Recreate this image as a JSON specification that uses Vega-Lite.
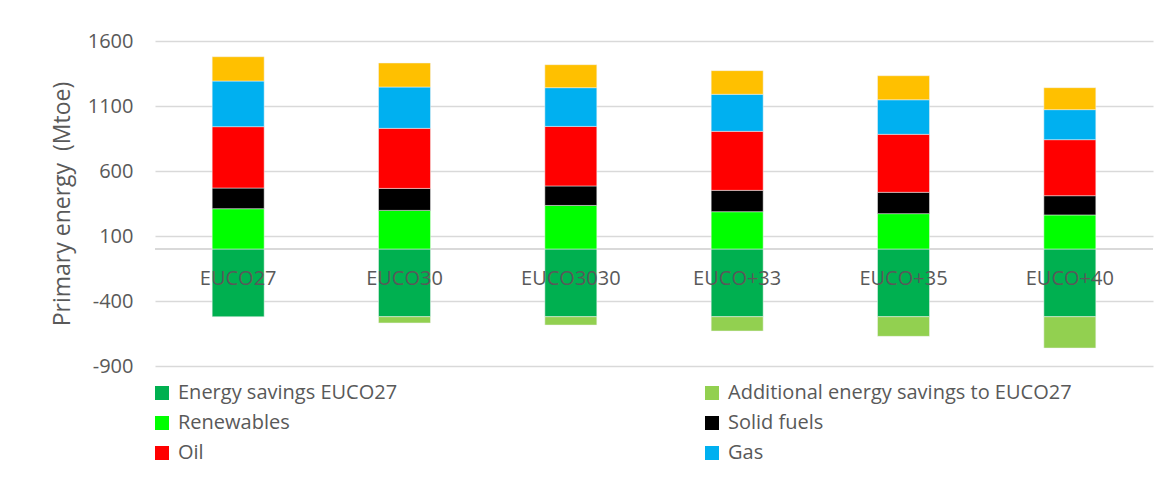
{
  "$schema": "https://vega.github.io/schema/vega-lite/v6.json",
  "autosize": {"type": "none"},
  "width": 998,
  "height": 325,
  "padding": {"left": 155, "top": 41, "right": 15, "bottom": 111},
  "background": "white",
  "config": {
    "font": "Open Sans",
    "view": {"stroke": null}
  },
  "data": {
    "values": [
      {"scenario": "EUCO27", "type": "Energy savings EUCO27", "value": -521},
      {"scenario": "EUCO27", "type": "Renewables", "value": 310},
      {"scenario": "EUCO27", "type": "Solid fuels", "value": 159},
      {"scenario": "EUCO27", "type": "Oil", "value": 472},
      {"scenario": "EUCO27", "type": "Gas", "value": 351},
      {"scenario": "EUCO27", "type": "Nuclear", "value": 187},
      {"scenario": "EUCO30", "type": "Energy savings EUCO27", "value": -521},
      {"scenario": "EUCO30", "type": "Additional energy savings to EUCO27", "value": -48},
      {"scenario": "EUCO30", "type": "Renewables", "value": 297},
      {"scenario": "EUCO30", "type": "Solid fuels", "value": 169},
      {"scenario": "EUCO30", "type": "Oil", "value": 462},
      {"scenario": "EUCO30", "type": "Gas", "value": 318},
      {"scenario": "EUCO30", "type": "Nuclear", "value": 185},
      {"scenario": "EUCO3030", "type": "Energy savings EUCO27", "value": -521},
      {"scenario": "EUCO3030", "type": "Additional energy savings to EUCO27", "value": -64},
      {"scenario": "EUCO3030", "type": "Renewables", "value": 335},
      {"scenario": "EUCO3030", "type": "Solid fuels", "value": 150},
      {"scenario": "EUCO3030", "type": "Oil", "value": 458},
      {"scenario": "EUCO3030", "type": "Gas", "value": 298},
      {"scenario": "EUCO3030", "type": "Nuclear", "value": 177},
      {"scenario": "EUCO+33", "type": "Energy savings EUCO27", "value": -521},
      {"scenario": "EUCO+33", "type": "Additional energy savings to EUCO27", "value": -110},
      {"scenario": "EUCO+33", "type": "Renewables", "value": 287},
      {"scenario": "EUCO+33", "type": "Solid fuels", "value": 164},
      {"scenario": "EUCO+33", "type": "Oil", "value": 454},
      {"scenario": "EUCO+33", "type": "Gas", "value": 285},
      {"scenario": "EUCO+33", "type": "Nuclear", "value": 182},
      {"scenario": "EUCO+35", "type": "Energy savings EUCO27", "value": -521},
      {"scenario": "EUCO+35", "type": "Additional energy savings to EUCO27", "value": -151},
      {"scenario": "EUCO+35", "type": "Renewables", "value": 272},
      {"scenario": "EUCO+35", "type": "Solid fuels", "value": 164},
      {"scenario": "EUCO+35", "type": "Oil", "value": 446},
      {"scenario": "EUCO+35", "type": "Gas", "value": 266},
      {"scenario": "EUCO+35", "type": "Nuclear", "value": 185},
      {"scenario": "EUCO+40", "type": "Energy savings EUCO27", "value": -521},
      {"scenario": "EUCO+40", "type": "Additional energy savings to EUCO27", "value": -241},
      {"scenario": "EUCO+40", "type": "Renewables", "value": 262},
      {"scenario": "EUCO+40", "type": "Solid fuels", "value": 148},
      {"scenario": "EUCO+40", "type": "Oil", "value": 431},
      {"scenario": "EUCO+40", "type": "Gas", "value": 231},
      {"scenario": "EUCO+40", "type": "Nuclear", "value": 169}
    ]
  },
  "layer": [
    {
      "mark": {"type": "rule", "color": "#d9d9d9", "strokeWidth": 1.3},
      "encoding": {
        "y": {
          "datum": 0,
          "type": "quantitative",
          "scale": {"domain": [-900, 1600], "nice": false, "zero": false},
          "axis": {
            "title": "Primary energy\u00a0 (Mtoe)",
            "titleFontSize": 23,
            "titleFontWeight": "normal",
            "titleColor": "#595959",
            "titlePadding": 13,
            "values": [-900, -400, 100, 600, 1100, 1600],
            "labelExpr": "'' + datum.value",
            "domain": false,
            "ticks": false,
            "labelFontSize": 20,
            "labelColor": "#595959",
            "labelPadding": 22,
            "grid": true,
            "gridColor": "#d9d9d9",
            "gridWidth": 1.3
          }
        }
      }
    },
    {
      "transform": [
        {"calculate": "indexof(['Energy savings EUCO27','Additional energy savings to EUCO27','Renewables','Solid fuels','Oil','Gas','Nuclear'], datum.type)", "as": "rank"}
      ],
      "mark": {"type": "bar", "stroke": "#f2f2f2", "strokeWidth": 0.5},
      "encoding": {
        "x": {
          "field": "scenario",
          "type": "nominal",
          "sort": ["EUCO27", "EUCO30", "EUCO3030", "EUCO+33", "EUCO+35", "EUCO+40"],
          "scale": {"paddingInner": 0.6875, "paddingOuter": 0.34375},
          "axis": {
            "title": null,
            "orient": "bottom",
            "offset": -117.7,
            "domain": false,
            "ticks": false,
            "grid": false,
            "labelAngle": 0,
            "labelFontSize": 20,
            "labelColor": "#595959",
            "labelPadding": 20,
            "zindex": 1
          }
        },
        "y": {
          "field": "value",
          "type": "quantitative",
          "stack": "zero",
          "scale": {"domain": [-900, 1600], "nice": false, "zero": false},
          "axis": {
            "title": "Primary energy\u00a0 (Mtoe)",
            "titleFontSize": 23,
            "titleFontWeight": "normal",
            "titleColor": "#595959",
            "titlePadding": 13,
            "values": [-900, -400, 100, 600, 1100, 1600],
            "labelExpr": "'' + datum.value",
            "domain": false,
            "ticks": false,
            "labelFontSize": 20,
            "labelColor": "#595959",
            "labelPadding": 22,
            "grid": true,
            "gridColor": "#d9d9d9",
            "gridWidth": 1.3
          }
        },
        "color": {
          "field": "type",
          "type": "nominal",
          "scale": {
            "domain": ["Energy savings EUCO27", "Additional energy savings to EUCO27", "Renewables", "Solid fuels", "Oil", "Gas", "Nuclear"],
            "range": ["#00B050", "#92D050", "#00FF00", "#000000", "#FF0000", "#00B0F0", "#FFC000"]
          },
          "legend": {
            "title": null,
            "orient": "none",
            "legendX": -3,
            "legendY": 342,
            "direction": "horizontal",
            "columns": 2,
            "columnPadding": 304,
            "rowPadding": 10,
            "values": ["Energy savings EUCO27", "Additional energy savings to EUCO27", "Renewables", "Solid fuels", "Oil", "Gas"],
            "symbolType": "square",
            "symbolSize": 196,
            "symbolStrokeWidth": 0,
            "labelFontSize": 20,
            "labelColor": "#595959",
            "labelOffset": 6,
            "labelLimit": 500
          }
        },
        "order": {"field": "rank", "type": "quantitative"}
      }
    }
  ]
}
